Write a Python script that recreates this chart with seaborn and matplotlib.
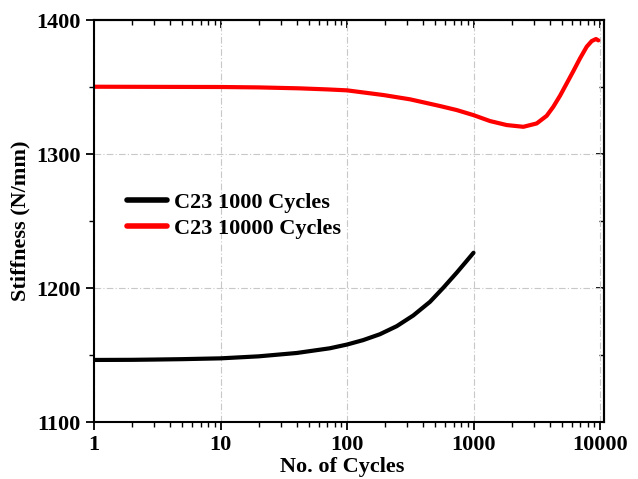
import matplotlib
matplotlib.use("Agg")
import matplotlib.pyplot as plt
import seaborn as sns
import pandas as pd
from matplotlib.ticker import FixedLocator, FixedFormatter, MultipleLocator, LogLocator, NullFormatter

# Data
cycles_1000 = [1, 2, 3, 5, 10, 20, 40, 73, 100, 134, 182, 247, 334, 453, 577, 736, 870, 1000]
stiff_1000 = [1146.3, 1146.4, 1146.6, 1146.9, 1147.5, 1149.0, 1151.5, 1155.0, 1157.8, 1161.1,
              1165.5, 1171.5, 1179.5, 1189.7, 1200.2, 1211.4, 1219.5, 1226.3]

cycles_10000 = [1, 3, 10, 20, 42, 70, 100, 194, 315, 543, 736, 1000, 1349, 1829, 2477, 3157,
                3787, 4276, 4830, 5455, 6156, 6950, 7850, 8600, 9290, 9700]
stiff_10000 = [1350.2, 1350.1, 1350.0, 1349.7, 1349.0, 1348.2, 1347.5, 1344.0, 1340.8, 1335.8,
               1332.8, 1329.0, 1324.6, 1321.6, 1320.3, 1322.8, 1328.5, 1335.3, 1343.5, 1352.7,
               1361.9, 1371.4, 1380.1, 1384.3, 1385.8, 1384.8]

series_labels = ["C23 1000 Cycles", "C23 10000 Cycles"]
x_ticks = [1, 10, 100, 1000, 10000]
x_tick_labels = ["1", "10", "100", "1000", "10000"]
y_ticks = [1100, 1200, 1300, 1400]

df = pd.concat([
    pd.DataFrame({"cycles": cycles_1000, "stiffness": stiff_1000, "series": series_labels[0]}),
    pd.DataFrame({"cycles": cycles_10000, "stiffness": stiff_10000, "series": series_labels[1]}),
], ignore_index=True)

sns.set_style("ticks")
plt.rcParams["font.family"] = ["Liberation Serif", "DejaVu Serif"]
plt.rcParams["font.weight"] = "bold"
for k in ["text.color", "axes.labelcolor", "xtick.color", "ytick.color", "axes.edgecolor"]:
    plt.rcParams[k] = "black"

fig = plt.figure(figsize=(6.38, 4.79), dpi=100)
ax = fig.add_axes([94 / 638, 1 - 422 / 479, (604 - 94) / 638, (422 - 20) / 479])

sns.lineplot(data=df, x="cycles", y="stiffness", hue="series",
             palette={series_labels[0]: "#000000", series_labels[1]: "#ff0000"},
             linewidth=3.0, ax=ax, sort=False, estimator=None)

ax.set_xscale("log")
ax.set_xlim(1, 10750)
ax.set_ylim(1100, 1400)
ax.xaxis.set_major_locator(FixedLocator(x_ticks))
ax.xaxis.set_major_formatter(FixedFormatter(x_tick_labels))
ax.xaxis.set_minor_locator(LogLocator(base=10, subs=range(2, 10)))
ax.xaxis.set_minor_formatter(NullFormatter())
ax.yaxis.set_major_locator(FixedLocator(y_ticks))
ax.yaxis.set_minor_locator(MultipleLocator(50))

ax.grid(True, which="major", color="#c8c8c8", linestyle=(0, (6, 2, 1, 2)), linewidth=0.8)

for s in ax.spines.values():
    s.set_visible(True)
    s.set_linewidth(1.5)
    s.set_color("black")

ax.tick_params(axis="both", which="major", labelsize=16, width=1.3, length=6, direction="out",
               top=False, right=False, colors="black")
ax.tick_params(axis="both", which="minor", width=1.0, length=3.5, direction="out",
               top=False, right=False)
# inward ticks on top and right
ax2 = ax.secondary_xaxis("top")
ax2.xaxis.set_major_locator(FixedLocator(x_ticks))
ax2.xaxis.set_minor_locator(LogLocator(base=10, subs=range(2, 10)))
ax2.xaxis.set_major_formatter(NullFormatter())
ax2.xaxis.set_minor_formatter(NullFormatter())
ax2.tick_params(which="major", direction="in", length=6, width=1.3)
ax2.tick_params(which="minor", direction="in", length=3.5, width=1.0)
ax3 = ax.secondary_yaxis("right")
ax3.yaxis.set_major_locator(FixedLocator(y_ticks))
ax3.yaxis.set_minor_locator(MultipleLocator(50))
ax3.yaxis.set_major_formatter(NullFormatter())
ax3.tick_params(which="major", direction="in", length=6, width=1.3)
ax3.tick_params(which="minor", direction="in", length=3.5, width=1.0)
for a in (ax2, ax3):
    for s in a.spines.values():
        s.set_linewidth(1.5)

for lab in ax.get_xticklabels() + ax.get_yticklabels():
    lab.set_fontweight("bold")

ax.set_xlabel("No. of Cycles", fontsize=16, fontweight="bold")
ax.xaxis.set_label_coords((342.5 - 94) / 510, -0.088)
ax.xaxis.label.set_verticalalignment("top")
ax.set_ylabel("Stiffness (N/mm)", fontsize=16, fontweight="bold", labelpad=4)

leg = ax.legend(loc="center left", bbox_to_anchor=(0.065, 0.514), frameon=False,
                borderaxespad=0, borderpad=0, handlelength=1.8, handletextpad=0.3,
                labelspacing=0.25, prop={"size": 16, "weight": "bold"})
for line in leg.get_lines():
    line.set_linewidth(4)

fig.savefig("out.png", dpi=100)
